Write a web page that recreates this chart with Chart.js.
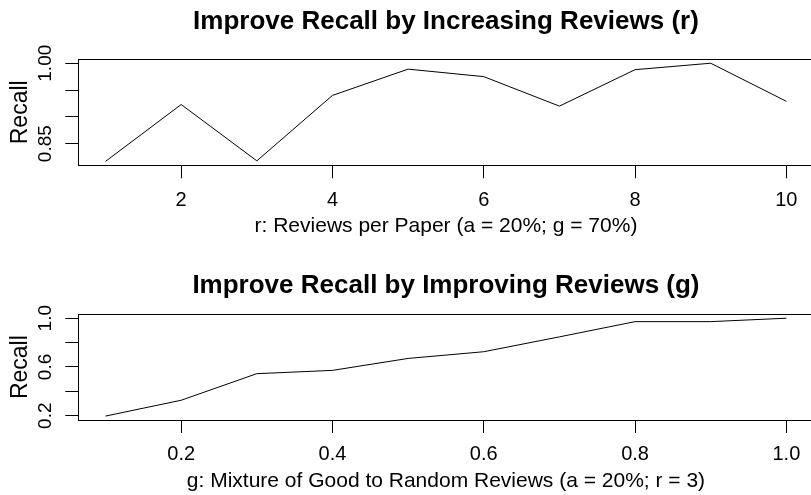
<!DOCTYPE html>
<html>
<head>
<meta charset="utf-8">
<script src="https://cdn.jsdelivr.net/npm/chart.js@4/dist/chart.umd.min.js"></script>
<style>
  html, body { margin: 0; padding: 0; background: #fff; overflow: hidden; }
  #wrap { position: relative; width: 811px; height: 495px; overflow: hidden; }
  canvas { position: absolute; left: 0; }
</style>
</head>
<body>
<div id="wrap">
  <canvas id="chartR" width="830" height="250" style="top:0"></canvas>
  <canvas id="chartG" width="830" height="245" style="top:250px"></canvas>
</div>
<script>
  // Panel 1: recall vs reviews per paper
  const reviewsPerPaper = [1, 2, 3, 4, 5, 6, 7, 8, 9, 10];
  const recallByReviews = [0.817, 0.923, 0.818, 0.940, 0.989, 0.975, 0.920, 0.988, 1.000, 0.929];
  const reviewsXTicks = [2, 4, 6, 8, 10];
  const reviewsYTicks = [0.85, 0.90, 0.95, 1.00];
  const reviewsYLabels = ['0.85', '', '', '1.00'];

  // Panel 2: recall vs mixture of good reviews
  const goodMixture = [0.1, 0.2, 0.3, 0.4, 0.5, 0.6, 0.7, 0.8, 0.9, 1.0];
  const recallByMixture = [0.197, 0.327, 0.545, 0.572, 0.670, 0.725, 0.847, 0.972, 0.972, 1.000];
  const mixtureXTicks = [0.2, 0.4, 0.6, 0.8, 1.0];
  const mixtureXLabels = ['0.2', '0.4', '0.6', '0.8', '1.0'];
  const mixtureYTicks = [0.2, 0.4, 0.6, 0.8, 1.0];
  const mixtureYLabels = ['0.2', '', '0.6', '', '1.0'];

  Chart.defaults.font.family = '"Liberation Sans", Arial, Helvetica, sans-serif';
  Chart.defaults.color = '#000';

  // R pads the data range by 4% on each side
  function rRange(arr) {
    const lo = Math.min(...arr), hi = Math.max(...arr);
    const pad = (hi - lo) * 0.04;
    return { min: lo - pad, max: hi + pad };
  }

  // box around the plot region, like R's box()
  const plotBox = {
    id: 'plotBox',
    afterDraw(chart) {
      const { ctx, chartArea: a } = chart;
      ctx.save();
      ctx.strokeStyle = '#000';
      ctx.lineWidth = 1;
      ctx.strokeRect(Math.round(a.left) + 0.5, Math.round(a.top) + 0.5,
        Math.round(a.right - a.left), Math.round(a.bottom - a.top));
      ctx.restore();
    }
  };

  function makePanel(id, cfg) {
    const xr = rRange(cfg.xs);
    const yr = rRange(cfg.ys);
    const tickGrid = {
      display: true, drawOnChartArea: false, drawTicks: true,
      tickLength: 13, color: '#000', lineWidth: 1
    };
    return new Chart(document.getElementById(id), {
      type: 'line',
      data: {
        datasets: [{
          data: cfg.xs.map((x, i) => ({ x: x, y: cfg.ys[i] })),
          borderColor: '#000',
          borderWidth: 1,
          pointRadius: 0,
          fill: false,
          tension: 0
        }]
      },
      options: {
        responsive: false,
        animation: false,
        layout: { padding: { top: 0, left: 0, right: 16.4, bottom: 0 } },
        plugins: {
          legend: { display: false },
          tooltip: { enabled: false },
          title: {
            display: true,
            text: cfg.title,
            fullSize: false,
            color: '#000',
            font: { size: 26, weight: 'bold' },
            padding: { top: cfg.titlePadTop, bottom: cfg.titlePadBottom }
          }
        },
        scales: {
          x: {
            type: 'linear',
            min: xr.min, max: xr.max,
            border: { display: false },
            grid: tickGrid,
            afterBuildTicks: s => { s.ticks = cfg.xTicks.map(v => ({ value: v })); },
            afterFit: s => { s.height = cfg.xAxisHeight; },
            ticks: {
              font: { size: 20 }, padding: 9.7, maxRotation: 0, autoSkip: false,
              callback: (v, i) => cfg.xLabels[i]
            },
            title: {
              display: true, text: cfg.xTitle, color: '#000',
              font: { size: 21 }, padding: { top: 0, bottom: cfg.xTitlePad }
            }
          },
          y: {
            type: 'linear',
            min: yr.min, max: yr.max,
            border: { display: false },
            grid: tickGrid,
            afterBuildTicks: s => { s.ticks = cfg.yTicks.map(v => ({ value: v })); },
            afterFit: s => { s.width = 78.3; },
            ticks: {
              font: { size: 19 }, padding: cfg.yTickPad,
              minRotation: 90, maxRotation: 90, crossAlign: 'center', autoSkip: false,
              callback: (v, i) => cfg.yLabels[i]
            },
            title: {
              display: true, text: 'Recall', color: '#000',
              font: { size: 23 }, padding: { top: 6.5, bottom: 0 }
            }
          }
        }
      },
      plugins: [plotBox]
    });
  }

  makePanel('chartR', {
    xs: reviewsPerPaper, ys: recallByReviews,
    xTicks: reviewsXTicks, xLabels: reviewsXTicks.map(String),
    yTicks: reviewsYTicks, yLabels: reviewsYLabels,
    title: 'Improve Recall by Increasing Reviews (r)',
    xTitle: 'r: Reviews per Paper (a = 20%; g = 70%)',
    titlePadTop: 6.4, titlePadBottom: 21.7,
    xAxisHeight: 84.7, xTitlePad: 11.4, yTickPad: 0.8
  });

  makePanel('chartG', {
    xs: goodMixture, ys: recallByMixture,
    xTicks: mixtureXTicks, xLabels: mixtureXLabels,
    yTicks: mixtureYTicks, yLabels: mixtureYLabels,
    title: 'Improve Recall by Improving Reviews (g)',
    xTitle: 'g: Mixture of Good to Random Reviews (a = 20%; r = 3)',
    titlePadTop: 20.4, titlePadBottom: 12.7,
    xAxisHeight: 75, xTitlePad: 1.4, yTickPad: 6.1
  });
</script>
</body>
</html>
